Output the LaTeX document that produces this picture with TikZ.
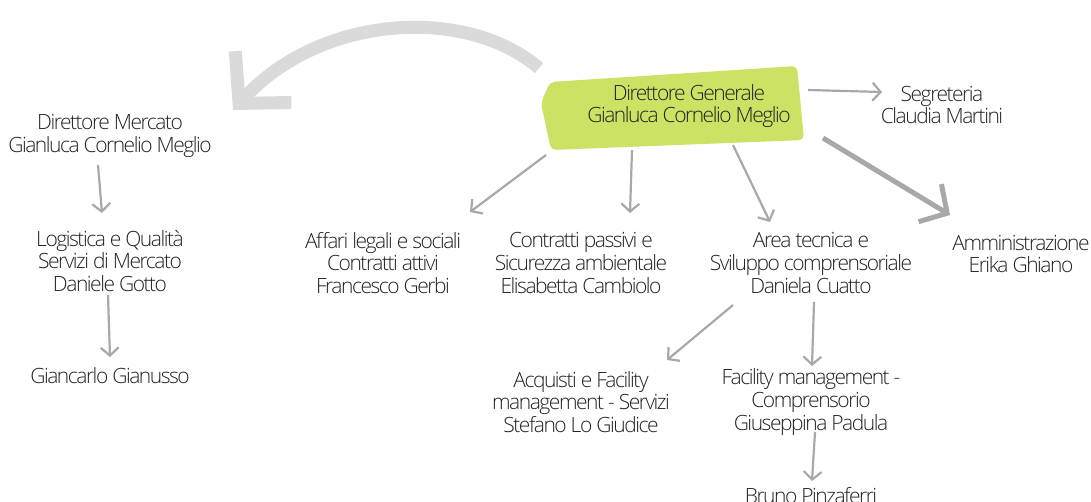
\documentclass[tikz,border=0pt]{standalone}
\usepackage{fontspec}
\setmainfont{Open Sans}[UprightFont=* Light,LetterSpace=-7.0]
\usetikzlibrary{arrows.meta,backgrounds,positioning}
\definecolor{leaf}{HTML}{CBE264}
\definecolor{wire}{HTML}{A8A8A8}
\definecolor{swoop}{HTML}{DADADA}
\definecolor{ink}{HTML}{222222}

\begin{document}
\begin{tikzpicture}[x=1pt,y=-1pt]
      \useasboundingbox (0,0) rectangle (1091,501);
      \begin{scope}[every node/.style={align=center,text=ink,inner sep=2pt,font=\fontsize{21}{22.8}\selectfont}]
        \node (gen) at (689,106) {Direttore Generale\\Gianluca Cornelio Meglio};
        \node (seg) at (942,105) {Segreteria\\Claudia Martini};
        \node (mkt) at (110,136) {Direttore Mercato\\Gianluca Cornelio Meglio};
        \node (log) at (110,261) {Logistica e Qualità\\Servizi di Mercato\\Daniele Gotto};
        \node (gia) at (110,376) {Giancarlo Gianusso};
        \node (aff) at (383,263) {Affari legali e sociali\\Contratti attivi\\Francesco Gerbi};
        \node (con) at (581,263) {Contratti passivi e\\Sicurezza ambientale\\Elisabetta Cambiolo};
        \node (are) at (811,263) {Area tecnica e\\Sviluppo comprensoriale\\Daniela Cuatto};
        \node (amm) at (1021,254) {Amministrazione\\Erika Ghiano};
        \node (acq) at (581,402) {Acquisti e Facility\\management - Servizi\\Stefano Lo Giudice};
        \node (fac) at (811,402) {Facility management -\\Comprensorio\\Giuseppina Padula};
        \node (bru) at (811,496) {Bruno Pinzaferri};
      \end{scope}
      \begin{scope}[on background layer]
        \fill[leaf,rounded corners=5pt] (550,82) -- (797,66) -- (804,140) -- (551,150) -- (545,122) -- (541,103) -- cycle;
      \end{scope}
      \draw[swoop,line width=13pt,-{Straight Barb[length=36pt,width=76pt]}]
        ([shift={(-150,-38)}]gen.center) .. controls (465,5) and (320,15) .. ([shift={(123,-26)}]mkt.center);
      \begin{scope}
        [every edge/.style={draw=wire,line width=2.2pt,-{Straight Barb[length=8pt,width=18pt]}}]
        \path ([shift={(-143,49)}]gen.center) edge ([shift={(87,-51)}]aff.center);
        \path ([shift={(-57,44)}]gen.center) edge ([shift={(49,-50)}]con.center);
        \path ([shift={(44,39)}]gen.center) edge ([shift={(-41,-41)}]are.center);
        \path ([shift={(119,-16)}]gen.center) edge ([shift={(-60,-13)}]seg.center);
        \path ([shift={(134,32)}]gen.center) edge[line width=5pt,-{Straight Barb[length=20pt,width=44pt]}] ([shift={(-71,-39)}]amm.center);
        \path ([shift={(-12,29)}]mkt.center) edge ([shift={(-8,-48)}]log.center);
        \path ([shift={(-2,34)}]log.center) edge ([shift={(0,-19)}]gia.center);
        \path ([shift={(-78,42)}]are.center) edge ([shift={(86,-42)}]acq.center);
        \path ([shift={(3,39)}]are.center) edge ([shift={(1,-36)}]fac.center);
        \path ([shift={(4,30)}]fac.center) edge ([shift={(1,-15)}]bru.center);
      \end{scope}
    \end{tikzpicture}
\end{document}
